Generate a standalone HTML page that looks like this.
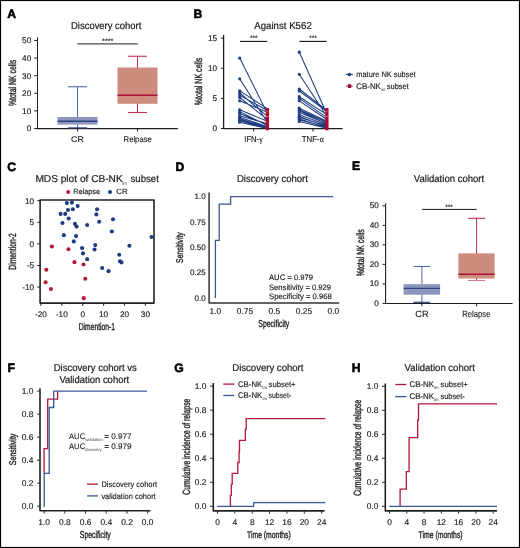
<!DOCTYPE html>
<html><head><meta charset="utf-8"><title>Figure</title>
<style>
html,body{margin:0;padding:0;background:#fff;}
svg{display:block;will-change:transform;}
text{font-family:"Liberation Sans", sans-serif;stroke:#1a1a1a;stroke-width:0.15px;text-rendering:geometricPrecision;}
</style></head>
<body>
<svg width="520" height="548" viewBox="0 0 520 548">
<rect x="0" y="0" width="520" height="548" fill="#fff"/>
<text x="7.2" y="17.5" font-size="12.2" font-weight="bold" fill="#000" style="stroke:#000;stroke-width:0.55px">A</text>
<text x="71" y="29.3" font-size="10.0" textLength="70.4" lengthAdjust="spacingAndGlyphs" fill="#1a1a1a" style="stroke-width:0.2px">Discovery cohort</text>
<line x1="37.5" y1="37.3" x2="37.5" y2="129.2" stroke="#1e1e1e" stroke-width="1"/>
<line x1="34.2" y1="128.5" x2="37.5" y2="128.5" stroke="#1e1e1e" stroke-width="1"/>
<text x="31.2" y="131.4" font-size="8.2" text-anchor="end" fill="#1a1a1a">0</text>
<line x1="34.2" y1="110.9" x2="37.5" y2="110.9" stroke="#1e1e1e" stroke-width="1"/>
<text x="31.2" y="113.80000000000001" font-size="8.2" text-anchor="end" fill="#1a1a1a">10</text>
<line x1="34.2" y1="93.3" x2="37.5" y2="93.3" stroke="#1e1e1e" stroke-width="1"/>
<text x="31.2" y="96.2" font-size="8.2" text-anchor="end" fill="#1a1a1a">20</text>
<line x1="34.2" y1="75.7" x2="37.5" y2="75.7" stroke="#1e1e1e" stroke-width="1"/>
<text x="31.2" y="78.60000000000001" font-size="8.2" text-anchor="end" fill="#1a1a1a">30</text>
<line x1="34.2" y1="58.099999999999994" x2="37.5" y2="58.099999999999994" stroke="#1e1e1e" stroke-width="1"/>
<text x="31.2" y="60.99999999999999" font-size="8.2" text-anchor="end" fill="#1a1a1a">40</text>
<line x1="34.2" y1="40.5" x2="37.5" y2="40.5" stroke="#1e1e1e" stroke-width="1"/>
<text x="31.2" y="43.4" font-size="8.2" text-anchor="end" fill="#1a1a1a">50</text>
<line x1="37.0" y1="128.6" x2="177.8" y2="128.6" stroke="#1e1e1e" stroke-width="1.1"/>
<line x1="77.5" y1="128.6" x2="77.5" y2="131.5" stroke="#1e1e1e" stroke-width="1"/>
<line x1="137.5" y1="128.6" x2="137.5" y2="131.5" stroke="#1e1e1e" stroke-width="1"/>
<text transform="translate(15.94,82.90) rotate(-90)" x="0" y="0" font-size="10.4" text-anchor="middle" textLength="46.4" lengthAdjust="spacingAndGlyphs" fill="#1a1a1a" style="stroke:#1a1a1a;stroke-width:0.35px">%total NK cells</text>
<g>
<line x1="77.5" y1="86.75" x2="77.5" y2="127.9" stroke="#4e6aa3" stroke-width="1"/>
<rect x="57.5" y="117.0" width="40" height="7.6" fill="#8c96be" stroke="none" stroke-width="0"/>
<line x1="68" y1="86.75" x2="87" y2="86.75" stroke="#4e6aa3" stroke-width="1.1"/>
<line x1="68" y1="127.9" x2="87" y2="127.9" stroke="#2a4580" stroke-width="1.2"/>
<line x1="57.5" y1="121.3" x2="97.5" y2="121.3" stroke="#2a4580" stroke-width="1.4"/>
<line x1="137.5" y1="56.25" x2="137.5" y2="112.5" stroke="#c0304f" stroke-width="1"/>
<rect x="117.5" y="67.5" width="40" height="36.25" fill="#cd8c7d" stroke="none" stroke-width="0"/>
<line x1="128" y1="56.25" x2="147" y2="56.25" stroke="#c0304f" stroke-width="1.1"/>
<line x1="128" y1="112.5" x2="147" y2="112.5" stroke="#c0304f" stroke-width="1.1"/>
<line x1="117.5" y1="95.2" x2="157.5" y2="95.2" stroke="#ac1236" stroke-width="1.5"/>
</g>
<line x1="77.5" y1="43.8" x2="137.8" y2="43.8" stroke="#4a4a4a" stroke-width="1.3"/>
<text x="107.7" y="43.4" font-size="6.5" text-anchor="middle" textLength="11.2" lengthAdjust="spacingAndGlyphs" fill="#222">****</text>
<text x="77.5" y="141.9" font-size="8.3" text-anchor="middle" textLength="12.8" lengthAdjust="spacingAndGlyphs" fill="#1a1a1a" style="stroke-width:0.12px">CR</text>
<text x="137.7" y="141.9" font-size="8.3" text-anchor="middle" textLength="28.2" lengthAdjust="spacingAndGlyphs" fill="#1a1a1a" style="stroke-width:0.12px">Relpase</text>
<text x="193.4" y="17.5" font-size="12.2" font-weight="bold" fill="#000" style="stroke:#000;stroke-width:0.55px">B</text>
<text x="254.2" y="29.4" font-size="10.0" textLength="57.6" lengthAdjust="spacingAndGlyphs" fill="#1a1a1a" style="stroke-width:0.2px">Against K562</text>
<line x1="223.6" y1="35.0" x2="223.6" y2="129.0" stroke="#1e1e1e" stroke-width="1.3"/>
<line x1="221.0" y1="128.5" x2="223.6" y2="128.5" stroke="#1e1e1e" stroke-width="1"/>
<text x="217.0" y="131.4" font-size="8.2" text-anchor="end" fill="#1a1a1a">0</text>
<line x1="221.0" y1="98.4" x2="223.6" y2="98.4" stroke="#1e1e1e" stroke-width="1"/>
<text x="217.0" y="101.30000000000001" font-size="8.2" text-anchor="end" fill="#1a1a1a">5</text>
<line x1="221.0" y1="68.30000000000001" x2="223.6" y2="68.30000000000001" stroke="#1e1e1e" stroke-width="1"/>
<text x="217.0" y="71.20000000000002" font-size="8.2" text-anchor="end" fill="#1a1a1a">10</text>
<line x1="221.0" y1="38.2" x2="223.6" y2="38.2" stroke="#1e1e1e" stroke-width="1"/>
<text x="217.0" y="41.1" font-size="8.2" text-anchor="end" fill="#1a1a1a">15</text>
<line x1="223.1" y1="128.6" x2="342.6" y2="128.6" stroke="#1e1e1e" stroke-width="1.1"/>
<line x1="253.7" y1="128.6" x2="253.7" y2="131.5" stroke="#1e1e1e" stroke-width="1"/>
<line x1="313" y1="128.6" x2="313" y2="131.5" stroke="#1e1e1e" stroke-width="1"/>
<text transform="translate(202.34,81.50) rotate(-90)" x="0" y="0" font-size="10.4" text-anchor="middle" textLength="47.5" lengthAdjust="spacingAndGlyphs" fill="#1a1a1a" style="stroke:#1a1a1a;stroke-width:0.35px">%total NK cells</text>
<line x1="240" y1="41.4" x2="267.3" y2="41.4" stroke="#111" stroke-width="1.1"/>
<line x1="299.4" y1="41.4" x2="326.7" y2="41.4" stroke="#111" stroke-width="1.1"/>
<text x="253.7" y="40.0" font-size="6.5" text-anchor="middle" fill="#222">***</text>
<text x="313.0" y="40.0" font-size="6.5" text-anchor="middle" fill="#222">***</text>
<text x="253.4" y="142.2" font-size="8.8" text-anchor="middle" textLength="18.2" lengthAdjust="spacingAndGlyphs" fill="#1a1a1a">IFN-<tspan style="font-family:Liberation Serif">γ</tspan></text>
<text x="312.8" y="142.2" font-size="8.8" text-anchor="middle" textLength="22.0" lengthAdjust="spacingAndGlyphs" fill="#1a1a1a">TNF-<tspan style="font-family:Liberation Serif">α</tspan></text>
<path d="M239.7,58.07L267.4,113.45M239.7,78.84L267.4,122.48M239.7,90.88L267.4,108.63M239.7,92.98L267.4,116.46M239.7,95.39L267.4,110.44M239.7,97.50L267.4,119.47M239.7,100.81L267.4,112.25M239.7,109.84L267.4,121.28M239.7,111.64L267.4,125.49M239.7,115.86L267.4,123.68M239.7,117.24L267.4,126.69M239.7,118.87L267.4,127.30M239.7,120.67L267.4,127.90M239.7,122.18L267.4,128.50M239.7,113.45L267.4,124.89M239.7,119.77L267.4,127.60" stroke="#1f3d80" stroke-width="1.05" fill="none"/>
<circle cx="239.7" cy="58.07" r="1.6" fill="#1f3d80"/>
<circle cx="239.7" cy="78.84" r="1.6" fill="#1f3d80"/>
<circle cx="239.7" cy="90.88" r="1.6" fill="#1f3d80"/>
<circle cx="239.7" cy="92.98" r="1.6" fill="#1f3d80"/>
<circle cx="239.7" cy="95.39" r="1.6" fill="#1f3d80"/>
<circle cx="239.7" cy="97.50" r="1.6" fill="#1f3d80"/>
<circle cx="239.7" cy="100.81" r="1.6" fill="#1f3d80"/>
<circle cx="239.7" cy="109.84" r="1.6" fill="#1f3d80"/>
<circle cx="239.7" cy="111.64" r="1.6" fill="#1f3d80"/>
<circle cx="239.7" cy="115.86" r="1.6" fill="#1f3d80"/>
<circle cx="239.7" cy="117.24" r="1.6" fill="#1f3d80"/>
<circle cx="239.7" cy="118.87" r="1.6" fill="#1f3d80"/>
<circle cx="239.7" cy="120.67" r="1.6" fill="#1f3d80"/>
<circle cx="239.7" cy="122.18" r="1.6" fill="#1f3d80"/>
<circle cx="239.7" cy="113.45" r="1.6" fill="#1f3d80"/>
<circle cx="239.7" cy="119.77" r="1.6" fill="#1f3d80"/>
<rect x="265.75" y="108.0" width="3.3" height="22.3" fill="#b2062f" stroke="none" stroke-width="0"/>
<rect x="265.75" y="111.5" width="3.3" height="0.6" fill="#fff" opacity="0.45"/>
<rect x="265.75" y="116.0" width="3.3" height="0.6" fill="#fff" opacity="0.6"/>
<path d="M299.3,52.17L326.9,114.05M299.3,74.32L326.9,116.46M299.3,89.01L326.9,110.44M299.3,91.00L326.9,111.64M299.3,96.71L326.9,114.65M299.3,98.40L326.9,117.66M299.3,100.81L326.9,119.47M299.3,108.21L326.9,121.28M299.3,109.84L326.9,122.48M299.3,112.31L326.9,123.68M299.3,114.77L326.9,124.89M299.3,117.24L326.9,126.09M299.3,119.71L326.9,127.30M299.3,121.40L326.9,128.20M299.3,116.46L326.9,126.69M299.3,110.44L326.9,124.29M299.3,118.87L326.9,127.90" stroke="#1f3d80" stroke-width="1.05" fill="none"/>
<circle cx="299.3" cy="52.17" r="1.6" fill="#1f3d80"/>
<circle cx="299.3" cy="74.32" r="1.6" fill="#1f3d80"/>
<circle cx="299.3" cy="89.01" r="1.6" fill="#1f3d80"/>
<circle cx="299.3" cy="91.00" r="1.6" fill="#1f3d80"/>
<circle cx="299.3" cy="96.71" r="1.6" fill="#1f3d80"/>
<circle cx="299.3" cy="98.40" r="1.6" fill="#1f3d80"/>
<circle cx="299.3" cy="100.81" r="1.6" fill="#1f3d80"/>
<circle cx="299.3" cy="108.21" r="1.6" fill="#1f3d80"/>
<circle cx="299.3" cy="109.84" r="1.6" fill="#1f3d80"/>
<circle cx="299.3" cy="112.31" r="1.6" fill="#1f3d80"/>
<circle cx="299.3" cy="114.77" r="1.6" fill="#1f3d80"/>
<circle cx="299.3" cy="117.24" r="1.6" fill="#1f3d80"/>
<circle cx="299.3" cy="119.71" r="1.6" fill="#1f3d80"/>
<circle cx="299.3" cy="121.40" r="1.6" fill="#1f3d80"/>
<circle cx="299.3" cy="116.46" r="1.6" fill="#1f3d80"/>
<circle cx="299.3" cy="110.44" r="1.6" fill="#1f3d80"/>
<circle cx="299.3" cy="118.87" r="1.6" fill="#1f3d80"/>
<rect x="325.25" y="108.0" width="3.3" height="22.3" fill="#b2062f" stroke="none" stroke-width="0"/>
<rect x="325.25" y="111.5" width="3.3" height="0.6" fill="#fff" opacity="0.45"/>
<rect x="325.25" y="116.0" width="3.3" height="0.6" fill="#fff" opacity="0.6"/>
<line x1="345.9" y1="74.5" x2="352.9" y2="74.5" stroke="#1f3d80" stroke-width="1.1"/>
<circle cx="349.4" cy="74.5" r="1.75" fill="#1f3d80"/>
<text x="356.3" y="77.0" font-size="8.0" textLength="59.3" lengthAdjust="spacingAndGlyphs" fill="#1a1a1a">mature NK subset</text>
<line x1="345.9" y1="86.1" x2="352.9" y2="86.1" stroke="#4a68a0" stroke-width="1.1"/>
<rect x="347.9" y="84.2" width="3.3" height="3.8" fill="#b2062f" stroke="none" stroke-width="0"/>
<text x="356.3" y="88.6" font-size="8.1" textLength="24.6" lengthAdjust="spacingAndGlyphs" fill="#1a1a1a">CB-NK</text>
<text x="381.2" y="90.5" font-size="4.4" textLength="4.2" lengthAdjust="spacingAndGlyphs" fill="#1a1a1a" style="stroke-width:0px">im</text>
<text x="386.8" y="88.6" font-size="8.0" textLength="21.9" lengthAdjust="spacingAndGlyphs" fill="#1a1a1a">subset</text>
<text x="7.2" y="170.6" font-size="12.2" font-weight="bold" fill="#000" style="stroke:#000;stroke-width:0.55px">C</text>
<text x="35.4" y="181.8" font-size="10.0" textLength="87.3" lengthAdjust="spacingAndGlyphs" fill="#1a1a1a" style="stroke-width:0.2px">MDS plot of CB-NK</text>
<text x="122.0" y="185.0" font-size="5.0" textLength="5.2" lengthAdjust="spacingAndGlyphs" fill="#555" style="stroke-width:0px">im</text>
<text x="130.5" y="181.8" font-size="10.0" textLength="28.3" lengthAdjust="spacingAndGlyphs" fill="#1a1a1a" style="stroke-width:0.2px">subset</text>
<circle cx="68.2" cy="192" r="2.0" fill="#b3173b"/>
<text x="73.2" y="194.1" font-size="7.6" textLength="26.8" lengthAdjust="spacingAndGlyphs" fill="#1a1a1a">Relapse</text>
<circle cx="110" cy="192" r="2.0" fill="#1f3c82"/>
<text x="116.3" y="194.1" font-size="7.6" textLength="11.3" lengthAdjust="spacingAndGlyphs" fill="#1a1a1a">CR</text>
<rect x="40.1" y="200.0" width="113.9" height="103.1" fill="none" stroke="#222" stroke-width="1.6" stroke-linejoin="round"/>
<line x1="37.3" y1="200.7" x2="40.2" y2="200.7" stroke="#1e1e1e" stroke-width="1"/>
<text x="34.1" y="203.6" font-size="8.2" text-anchor="end" fill="#1a1a1a">10</text>
<line x1="37.3" y1="222.3" x2="40.2" y2="222.3" stroke="#1e1e1e" stroke-width="1"/>
<text x="34.1" y="225.20000000000002" font-size="8.2" text-anchor="end" fill="#1a1a1a">5</text>
<line x1="37.3" y1="243.9" x2="40.2" y2="243.9" stroke="#1e1e1e" stroke-width="1"/>
<text x="34.1" y="246.8" font-size="8.2" text-anchor="end" fill="#1a1a1a">0</text>
<line x1="37.3" y1="265.5" x2="40.2" y2="265.5" stroke="#1e1e1e" stroke-width="1"/>
<text x="34.1" y="268.4" font-size="8.2" text-anchor="end" fill="#1a1a1a">-5</text>
<line x1="37.3" y1="287.1" x2="40.2" y2="287.1" stroke="#1e1e1e" stroke-width="1"/>
<text x="34.1" y="290.0" font-size="8.2" text-anchor="end" fill="#1a1a1a">-10</text>
<line x1="40.900000000000006" y1="302.9" x2="40.900000000000006" y2="305.8" stroke="#1e1e1e" stroke-width="1"/>
<text x="40.900000000000006" y="317.0" font-size="8.2" text-anchor="middle" fill="#1a1a1a">-20</text>
<line x1="61.800000000000004" y1="302.9" x2="61.800000000000004" y2="305.8" stroke="#1e1e1e" stroke-width="1"/>
<text x="61.800000000000004" y="317.0" font-size="8.2" text-anchor="middle" fill="#1a1a1a">-10</text>
<line x1="82.7" y1="302.9" x2="82.7" y2="305.8" stroke="#1e1e1e" stroke-width="1"/>
<text x="82.7" y="317.0" font-size="8.2" text-anchor="middle" fill="#1a1a1a">0</text>
<line x1="103.6" y1="302.9" x2="103.6" y2="305.8" stroke="#1e1e1e" stroke-width="1"/>
<text x="103.6" y="317.0" font-size="8.2" text-anchor="middle" fill="#1a1a1a">10</text>
<line x1="124.5" y1="302.9" x2="124.5" y2="305.8" stroke="#1e1e1e" stroke-width="1"/>
<text x="124.5" y="317.0" font-size="8.2" text-anchor="middle" fill="#1a1a1a">20</text>
<line x1="145.4" y1="302.9" x2="145.4" y2="305.8" stroke="#1e1e1e" stroke-width="1"/>
<text x="145.4" y="317.0" font-size="8.2" text-anchor="middle" fill="#1a1a1a">30</text>
<text transform="translate(15.94,251.50) rotate(-90)" x="0" y="0" font-size="10.4" text-anchor="middle" textLength="36.5" lengthAdjust="spacingAndGlyphs" fill="#1a1a1a" style="stroke:#1a1a1a;stroke-width:0.35px">Dimention-2</text>
<text x="96.9" y="330.3" font-size="10.0" text-anchor="middle" textLength="36.3" lengthAdjust="spacingAndGlyphs" fill="#1a1a1a" style="stroke:#1a1a1a;stroke-width:0.35px">Dimention-1</text>
<circle cx="66.85" cy="203.08" r="2.05" fill="#1f3c82"/>
<circle cx="71.93" cy="202.62" r="2.05" fill="#1f3c82"/>
<circle cx="77.70" cy="206.08" r="2.05" fill="#1f3c82"/>
<circle cx="68.00" cy="210.00" r="2.05" fill="#1f3c82"/>
<circle cx="72.85" cy="209.31" r="2.05" fill="#1f3c82"/>
<circle cx="60.62" cy="213.92" r="2.05" fill="#1f3c82"/>
<circle cx="65.23" cy="213.92" r="2.05" fill="#1f3c82"/>
<circle cx="68.69" cy="218.54" r="2.05" fill="#1f3c82"/>
<circle cx="62.46" cy="222.93" r="2.05" fill="#1f3c82"/>
<circle cx="74.93" cy="223.85" r="2.05" fill="#1f3c82"/>
<circle cx="76.54" cy="226.62" r="2.05" fill="#1f3c82"/>
<circle cx="87.16" cy="225.00" r="2.05" fill="#1f3c82"/>
<circle cx="97.08" cy="209.31" r="2.05" fill="#1f3c82"/>
<circle cx="96.39" cy="214.39" r="2.05" fill="#1f3c82"/>
<circle cx="99.16" cy="221.77" r="2.05" fill="#1f3c82"/>
<circle cx="113.01" cy="219.23" r="2.05" fill="#1f3c82"/>
<circle cx="111.85" cy="231.46" r="2.05" fill="#1f3c82"/>
<circle cx="63.85" cy="235.16" r="2.05" fill="#1f3c82"/>
<circle cx="76.08" cy="236.08" r="2.05" fill="#1f3c82"/>
<circle cx="73.77" cy="241.39" r="2.05" fill="#1f3c82"/>
<circle cx="151.55" cy="237.00" r="2.05" fill="#1f3c82"/>
<circle cx="95.24" cy="245.08" r="2.05" fill="#1f3c82"/>
<circle cx="94.54" cy="249.47" r="2.05" fill="#1f3c82"/>
<circle cx="82.08" cy="248.08" r="2.05" fill="#1f3c82"/>
<circle cx="83.00" cy="253.39" r="2.05" fill="#1f3c82"/>
<circle cx="87.16" cy="259.16" r="2.05" fill="#1f3c82"/>
<circle cx="129.39" cy="245.77" r="2.05" fill="#1f3c82"/>
<circle cx="119.24" cy="254.77" r="2.05" fill="#1f3c82"/>
<circle cx="119.93" cy="261.24" r="2.05" fill="#1f3c82"/>
<circle cx="121.54" cy="262.39" r="2.05" fill="#1f3c82"/>
<circle cx="102.16" cy="267.93" r="2.05" fill="#1f3c82"/>
<circle cx="108.62" cy="271.16" r="2.05" fill="#1f3c82"/>
<circle cx="51.85" cy="246.47" r="2.05" fill="#b3173b"/>
<circle cx="68.46" cy="249.23" r="2.05" fill="#b3173b"/>
<circle cx="74.46" cy="262.16" r="2.05" fill="#b3173b"/>
<circle cx="83.47" cy="264.47" r="2.05" fill="#b3173b"/>
<circle cx="46.31" cy="269.77" r="2.05" fill="#b3173b"/>
<circle cx="45.62" cy="282.24" r="2.05" fill="#b3173b"/>
<circle cx="50.92" cy="288.93" r="2.05" fill="#b3173b"/>
<circle cx="85.31" cy="278.78" r="2.05" fill="#b3173b"/>
<circle cx="83.70" cy="298.16" r="2.05" fill="#b3173b"/>
<text x="175.6" y="170.6" font-size="12.2" font-weight="bold" fill="#000" style="stroke:#000;stroke-width:0.55px">D</text>
<text x="236.9" y="182.3" font-size="10.0" textLength="71" lengthAdjust="spacingAndGlyphs" fill="#1a1a1a" style="stroke-width:0.2px">Discovery cohort</text>
<path d="M209.1,192.5V302.9H339.2" stroke="#333" stroke-width="1.5" fill="none" stroke-linejoin="round"/>
<text x="205.7" y="199.2" font-size="8.0" text-anchor="end" fill="#1a1a1a">1.0</text>
<text x="205.7" y="224.6" font-size="8.0" text-anchor="end" fill="#1a1a1a">0.75</text>
<text x="205.7" y="249.99999999999997" font-size="8.0" text-anchor="end" fill="#1a1a1a">0.50</text>
<text x="205.7" y="275.40000000000003" font-size="8.0" text-anchor="end" fill="#1a1a1a">0.25</text>
<text x="205.7" y="300.8" font-size="8.0" text-anchor="end" fill="#1a1a1a">0.0</text>
<text x="215.4" y="313.9" font-size="8.4" text-anchor="middle" fill="#1a1a1a">1.0</text>
<text x="244.9" y="313.9" font-size="8.4" text-anchor="middle" fill="#1a1a1a">0.75</text>
<text x="274.4" y="313.9" font-size="8.4" text-anchor="middle" fill="#1a1a1a">0.5</text>
<text x="303.9" y="313.9" font-size="8.4" text-anchor="middle" fill="#1a1a1a">0.25</text>
<text x="333.4" y="313.9" font-size="8.4" text-anchor="middle" fill="#1a1a1a">0.0</text>
<text transform="translate(183.13,247.60) rotate(-90)" x="0" y="0" font-size="9.8" text-anchor="middle" textLength="30.6" lengthAdjust="spacingAndGlyphs" fill="#1a1a1a" style="stroke:#1a1a1a;stroke-width:0.35px">Sensitivity</text>
<text x="273.8" y="327.0" font-size="10.0" text-anchor="middle" textLength="31" lengthAdjust="spacingAndGlyphs" fill="#1a1a1a" style="stroke:#1a1a1a;stroke-width:0.35px">Specificity</text>
<path d="M215.4,298.0V240.4H219.2V204.1H230.6V196.7H333.2" stroke="#3a5896" stroke-width="1.3" fill="none"/>
<text x="269.0" y="280.2" font-size="7.9" textLength="44.1" lengthAdjust="spacingAndGlyphs" fill="#1a1a1a">AUC = 0.979</text>
<text x="269.0" y="289.6" font-size="7.9" textLength="62.1" lengthAdjust="spacingAndGlyphs" fill="#1a1a1a">Sensitivity = 0.929</text>
<text x="269.0" y="298.9" font-size="7.9" textLength="62.9" lengthAdjust="spacingAndGlyphs" fill="#1a1a1a">Specificity = 0.968</text>
<text x="352.1" y="170.4" font-size="12.2" font-weight="bold" fill="#000" style="stroke:#000;stroke-width:0.55px">E</text>
<text x="413.8" y="182.3" font-size="10.0" textLength="70.4" lengthAdjust="spacingAndGlyphs" fill="#1a1a1a" style="stroke-width:0.2px">Validation cohort</text>
<line x1="385.6" y1="203.3" x2="385.6" y2="304.0" stroke="#1e1e1e" stroke-width="1.1"/>
<line x1="382.5" y1="303.4" x2="385.6" y2="303.4" stroke="#1e1e1e" stroke-width="1"/>
<text x="378.9" y="305.9" font-size="8.2" text-anchor="end" fill="#1a1a1a">0</text>
<line x1="382.5" y1="283.88" x2="385.6" y2="283.88" stroke="#1e1e1e" stroke-width="1"/>
<text x="378.9" y="286.38" font-size="8.2" text-anchor="end" fill="#1a1a1a">10</text>
<line x1="382.5" y1="264.35999999999996" x2="385.6" y2="264.35999999999996" stroke="#1e1e1e" stroke-width="1"/>
<text x="378.9" y="266.85999999999996" font-size="8.2" text-anchor="end" fill="#1a1a1a">20</text>
<line x1="382.5" y1="244.83999999999997" x2="385.6" y2="244.83999999999997" stroke="#1e1e1e" stroke-width="1"/>
<text x="378.9" y="247.33999999999997" font-size="8.2" text-anchor="end" fill="#1a1a1a">30</text>
<line x1="382.5" y1="225.32" x2="385.6" y2="225.32" stroke="#1e1e1e" stroke-width="1"/>
<text x="378.9" y="227.82" font-size="8.2" text-anchor="end" fill="#1a1a1a">40</text>
<line x1="382.5" y1="205.79999999999998" x2="385.6" y2="205.79999999999998" stroke="#1e1e1e" stroke-width="1"/>
<text x="378.9" y="208.29999999999998" font-size="8.2" text-anchor="end" fill="#1a1a1a">50</text>
<line x1="385.1" y1="303.5" x2="512.6" y2="303.5" stroke="#1e1e1e" stroke-width="1.1"/>
<line x1="421.9" y1="303.5" x2="421.9" y2="306.3" stroke="#1e1e1e" stroke-width="1"/>
<line x1="476.6" y1="303.5" x2="476.6" y2="306.3" stroke="#1e1e1e" stroke-width="1"/>
<text transform="translate(364.24,252.70) rotate(-90)" x="0" y="0" font-size="10.4" text-anchor="middle" textLength="47" lengthAdjust="spacingAndGlyphs" fill="#1a1a1a" style="stroke:#1a1a1a;stroke-width:0.35px">%total NK cells</text>
<line x1="421.9" y1="209.4" x2="476.6" y2="209.4" stroke="#1e1e1e" stroke-width="1"/>
<text x="449.0" y="209.0" font-size="6.5" text-anchor="middle" fill="#222">***</text>
<line x1="421.9" y1="266.5" x2="421.9" y2="302.3" stroke="#4e6aa3" stroke-width="1"/>
<rect x="403.6" y="284.2" width="36.5" height="10.5" fill="#8c96be" stroke="none" stroke-width="0"/>
<line x1="413.4" y1="266.5" x2="430.2" y2="266.5" stroke="#4e6aa3" stroke-width="1.1"/>
<line x1="413.4" y1="302.3" x2="430.2" y2="302.3" stroke="#2a4580" stroke-width="1.2"/>
<line x1="403.6" y1="288.4" x2="440.1" y2="288.4" stroke="#2a4580" stroke-width="1.4"/>
<line x1="476.6" y1="218.3" x2="476.6" y2="280.4" stroke="#c0304f" stroke-width="1"/>
<rect x="458.4" y="253.4" width="36.2" height="25.1" fill="#cd8c7d" stroke="none" stroke-width="0"/>
<line x1="468.0" y1="218.3" x2="485.2" y2="218.3" stroke="#c0304f" stroke-width="1.1"/>
<line x1="468.0" y1="280.4" x2="485.2" y2="280.4" stroke="#d06a80" stroke-width="1.0"/>
<line x1="458.4" y1="274.2" x2="494.6" y2="274.2" stroke="#ac1236" stroke-width="1.5"/>
<text x="421.9" y="317.0" font-size="9.0" text-anchor="middle" textLength="13.2" lengthAdjust="spacingAndGlyphs" fill="#1a1a1a" style="stroke-width:0.12px">CR</text>
<text x="476.4" y="317.0" font-size="9.0" text-anchor="middle" textLength="28.2" lengthAdjust="spacingAndGlyphs" fill="#1a1a1a" style="stroke-width:0.12px">Relapse</text>
<text x="7.4" y="372.4" font-size="12.2" font-weight="bold" fill="#000" style="stroke:#000;stroke-width:0.55px">F</text>
<text x="53.7" y="371.1" font-size="10.0" textLength="83.2" lengthAdjust="spacingAndGlyphs" fill="#1a1a1a" style="stroke-width:0.2px">Discovery cohort vs</text>
<text x="59.4" y="383.0" font-size="10.0" textLength="69.8" lengthAdjust="spacingAndGlyphs" fill="#1a1a1a" style="stroke-width:0.2px">Validation cohort</text>
<path d="M40.0,388.2V510.7H150.6" stroke="#222" stroke-width="1.6" fill="none" stroke-linejoin="round"/>
<line x1="37.1" y1="506.2" x2="40.0" y2="506.2" stroke="#2a2a2a" stroke-width="1"/>
<text x="33.3" y="508.9" font-size="8.4" text-anchor="end" fill="#1a1a1a">0.0</text>
<line x1="147.7" y1="510.7" x2="147.7" y2="513.6" stroke="#2a2a2a" stroke-width="1"/>
<text x="147.7" y="524.6" font-size="8.4" text-anchor="middle" fill="#1a1a1a">0.0</text>
<line x1="37.1" y1="483.18" x2="40.0" y2="483.18" stroke="#2a2a2a" stroke-width="1"/>
<text x="33.3" y="485.88" font-size="8.4" text-anchor="end" fill="#1a1a1a">0.2</text>
<line x1="126.97999999999999" y1="510.7" x2="126.97999999999999" y2="513.6" stroke="#2a2a2a" stroke-width="1"/>
<text x="126.97999999999999" y="524.6" font-size="8.4" text-anchor="middle" fill="#1a1a1a">0.2</text>
<line x1="37.1" y1="460.15999999999997" x2="40.0" y2="460.15999999999997" stroke="#2a2a2a" stroke-width="1"/>
<text x="33.3" y="462.85999999999996" font-size="8.4" text-anchor="end" fill="#1a1a1a">0.4</text>
<line x1="106.25999999999999" y1="510.7" x2="106.25999999999999" y2="513.6" stroke="#2a2a2a" stroke-width="1"/>
<text x="106.25999999999999" y="524.6" font-size="8.4" text-anchor="middle" fill="#1a1a1a">0.4</text>
<line x1="37.1" y1="437.14" x2="40.0" y2="437.14" stroke="#2a2a2a" stroke-width="1"/>
<text x="33.3" y="439.84" font-size="8.4" text-anchor="end" fill="#1a1a1a">0.6</text>
<line x1="85.53999999999999" y1="510.7" x2="85.53999999999999" y2="513.6" stroke="#2a2a2a" stroke-width="1"/>
<text x="85.53999999999999" y="524.6" font-size="8.4" text-anchor="middle" fill="#1a1a1a">0.6</text>
<line x1="37.1" y1="414.12" x2="40.0" y2="414.12" stroke="#2a2a2a" stroke-width="1"/>
<text x="33.3" y="416.82" font-size="8.4" text-anchor="end" fill="#1a1a1a">0.8</text>
<line x1="64.82" y1="510.7" x2="64.82" y2="513.6" stroke="#2a2a2a" stroke-width="1"/>
<text x="64.82" y="524.6" font-size="8.4" text-anchor="middle" fill="#1a1a1a">0.8</text>
<line x1="37.1" y1="391.1" x2="40.0" y2="391.1" stroke="#2a2a2a" stroke-width="1"/>
<text x="33.3" y="393.8" font-size="8.4" text-anchor="end" fill="#1a1a1a">1.0</text>
<line x1="44.1" y1="510.7" x2="44.1" y2="513.6" stroke="#2a2a2a" stroke-width="1"/>
<text x="44.1" y="524.6" font-size="8.4" text-anchor="middle" fill="#1a1a1a">1.0</text>
<text transform="translate(16.13,449.40) rotate(-90)" x="0" y="0" font-size="9.8" text-anchor="middle" textLength="31.5" lengthAdjust="spacingAndGlyphs" fill="#1a1a1a" style="stroke:#1a1a1a;stroke-width:0.35px">Sensitivity</text>
<text x="95.3" y="538.2" font-size="10.0" text-anchor="middle" textLength="31" lengthAdjust="spacingAndGlyphs" fill="#1a1a1a" style="stroke:#1a1a1a;stroke-width:0.35px">Specificity</text>
<path d="M44.1,473.3V448.6H47.7V399.2H57.6V391.2" stroke="#b3173b" stroke-width="1.3" fill="none"/>
<path d="M44.2,507.0V473.3H49.2V407.5H53.7V391.2H147.0" stroke="#3a5896" stroke-width="1.3" fill="none"/>
<text x="69.0" y="438.7" font-size="8.0" textLength="16.2" lengthAdjust="spacingAndGlyphs" fill="#1a1a1a" style="stroke-width:0.1px">AUC</text>
<text x="85.3" y="440.9" font-size="4.2" textLength="17.4" lengthAdjust="spacingAndGlyphs" fill="#444" style="stroke-width:0px">validation</text>
<text x="104.2" y="438.7" font-size="8.0" textLength="27.3" lengthAdjust="spacingAndGlyphs" fill="#1a1a1a" style="stroke-width:0.1px">= 0.977</text>
<text x="69.0" y="448.5" font-size="8.0" textLength="16.2" lengthAdjust="spacingAndGlyphs" fill="#1a1a1a" style="stroke-width:0.1px">AUC</text>
<text x="85.3" y="450.7" font-size="4.2" textLength="16.4" lengthAdjust="spacingAndGlyphs" fill="#444" style="stroke-width:0px">discovery</text>
<text x="104.2" y="448.5" font-size="8.0" textLength="27.3" lengthAdjust="spacingAndGlyphs" fill="#1a1a1a" style="stroke-width:0.1px">= 0.979</text>
<line x1="87.1" y1="484.1" x2="97.9" y2="484.1" stroke="#b3173b" stroke-width="1.3"/>
<text x="101.4" y="486.7" font-size="8.0" textLength="55.7" lengthAdjust="spacingAndGlyphs" fill="#1a1a1a">Discovery cohort</text>
<line x1="87.1" y1="495.9" x2="97.9" y2="495.9" stroke="#3a5896" stroke-width="1.3"/>
<text x="101.4" y="498.5" font-size="8.0" textLength="54.3" lengthAdjust="spacingAndGlyphs" fill="#1a1a1a">validation cohort</text>
<text x="174.3" y="372.4" font-size="12.2" font-weight="bold" fill="#000" style="stroke:#000;stroke-width:0.55px">G</text>
<text x="232.3" y="371.0" font-size="10.0" textLength="71.1" lengthAdjust="spacingAndGlyphs" fill="#1a1a1a" style="stroke-width:0.2px">Discovery cohort</text>
<path d="M213.3,383.0V510.9H324.6" stroke="#222" stroke-width="1.6" fill="none" stroke-linejoin="round"/>
<line x1="210.0" y1="506.3" x2="213.3" y2="506.3" stroke="#2a2a2a" stroke-width="1"/>
<text x="206.3" y="509.0" font-size="8.4" text-anchor="end" fill="#1a1a1a">0.0</text>
<line x1="210.0" y1="482.26" x2="213.3" y2="482.26" stroke="#2a2a2a" stroke-width="1"/>
<text x="206.3" y="484.96" font-size="8.4" text-anchor="end" fill="#1a1a1a">0.2</text>
<line x1="210.0" y1="458.22" x2="213.3" y2="458.22" stroke="#2a2a2a" stroke-width="1"/>
<text x="206.3" y="460.92" font-size="8.4" text-anchor="end" fill="#1a1a1a">0.4</text>
<line x1="210.0" y1="434.18" x2="213.3" y2="434.18" stroke="#2a2a2a" stroke-width="1"/>
<text x="206.3" y="436.88" font-size="8.4" text-anchor="end" fill="#1a1a1a">0.6</text>
<line x1="210.0" y1="410.14" x2="213.3" y2="410.14" stroke="#2a2a2a" stroke-width="1"/>
<text x="206.3" y="412.84" font-size="8.4" text-anchor="end" fill="#1a1a1a">0.8</text>
<line x1="210.0" y1="386.1" x2="213.3" y2="386.1" stroke="#2a2a2a" stroke-width="1"/>
<text x="206.3" y="388.8" font-size="8.4" text-anchor="end" fill="#1a1a1a">1.0</text>
<line x1="217.5" y1="510.9" x2="217.5" y2="513.6" stroke="#2a2a2a" stroke-width="1"/>
<text x="217.5" y="524.5" font-size="8.4" text-anchor="middle" fill="#1a1a1a">0</text>
<line x1="234.86" y1="510.9" x2="234.86" y2="513.6" stroke="#2a2a2a" stroke-width="1"/>
<text x="234.86" y="524.5" font-size="8.4" text-anchor="middle" fill="#1a1a1a">4</text>
<line x1="252.22" y1="510.9" x2="252.22" y2="513.6" stroke="#2a2a2a" stroke-width="1"/>
<text x="252.22" y="524.5" font-size="8.4" text-anchor="middle" fill="#1a1a1a">8</text>
<line x1="269.58" y1="510.9" x2="269.58" y2="513.6" stroke="#2a2a2a" stroke-width="1"/>
<text x="269.58" y="524.5" font-size="8.4" text-anchor="middle" fill="#1a1a1a">12</text>
<line x1="286.94" y1="510.9" x2="286.94" y2="513.6" stroke="#2a2a2a" stroke-width="1"/>
<text x="286.94" y="524.5" font-size="8.4" text-anchor="middle" fill="#1a1a1a">16</text>
<line x1="304.3" y1="510.9" x2="304.3" y2="513.6" stroke="#2a2a2a" stroke-width="1"/>
<text x="304.3" y="524.5" font-size="8.4" text-anchor="middle" fill="#1a1a1a">20</text>
<line x1="321.65999999999997" y1="510.9" x2="321.65999999999997" y2="513.6" stroke="#2a2a2a" stroke-width="1"/>
<text x="321.65999999999997" y="524.5" font-size="8.4" text-anchor="middle" fill="#1a1a1a">24</text>
<text transform="translate(189.62,446.70) rotate(-90)" x="0" y="0" font-size="10.6" text-anchor="middle" textLength="96" lengthAdjust="spacingAndGlyphs" fill="#1a1a1a" style="stroke:#1a1a1a;stroke-width:0.35px">Cumulative incidence of relapse</text>
<text x="268.9" y="538.2" font-size="9.6" text-anchor="middle" textLength="43.8" lengthAdjust="spacingAndGlyphs" fill="#1a1a1a" style="stroke:#1a1a1a;stroke-width:0.35px">Time (months)</text>
<path d="M217.2,506.4H253.7V502.6H325.3" stroke="#3a5896" stroke-width="1.3" fill="none"/>
<path d="M230.4,506.4V495.3H231.3V484.4H232.2V473.3H237.8V462.5H239.1V451.5H239.5V440.4H245.3V429.4H246.2V418.6H325.3" stroke="#b3173b" stroke-width="1.3" fill="none"/>
<line x1="223.3" y1="384.1" x2="234.4" y2="384.1" stroke="#b3173b" stroke-width="1.3"/>
<text x="238.0" y="386.6" font-size="8.1" textLength="24.2" lengthAdjust="spacingAndGlyphs" fill="#1a1a1a">CB-NK</text>
<text x="262.5" y="388.6" font-size="4.4" textLength="4.4" lengthAdjust="spacingAndGlyphs" fill="#1a1a1a" style="stroke-width:0px">im</text>
<text x="268.6" y="386.6" font-size="8.0" textLength="27.0" lengthAdjust="spacingAndGlyphs" fill="#1a1a1a">subset+</text>
<line x1="223.3" y1="395.5" x2="234.4" y2="395.5" stroke="#3a5896" stroke-width="1.3"/>
<text x="238.0" y="398.0" font-size="8.1" textLength="24.2" lengthAdjust="spacingAndGlyphs" fill="#1a1a1a">CB-NK</text>
<text x="262.5" y="400.0" font-size="4.4" textLength="4.4" lengthAdjust="spacingAndGlyphs" fill="#1a1a1a" style="stroke-width:0px">im</text>
<text x="268.6" y="398.0" font-size="8.0" textLength="22.5" lengthAdjust="spacingAndGlyphs" fill="#1a1a1a">subset-</text>
<text x="351.8" y="372.4" font-size="12.2" font-weight="bold" fill="#000" style="stroke:#000;stroke-width:0.55px">H</text>
<text x="404.6" y="371.0" font-size="10.0" textLength="70.2" lengthAdjust="spacingAndGlyphs" fill="#1a1a1a" style="stroke-width:0.2px">Validation cohort</text>
<path d="M385.3,383.5V510.9H497.0" stroke="#222" stroke-width="1.6" fill="none" stroke-linejoin="round"/>
<line x1="382.0" y1="506.3" x2="385.3" y2="506.3" stroke="#2a2a2a" stroke-width="1"/>
<text x="378.3" y="509.0" font-size="8.4" text-anchor="end" fill="#1a1a1a">0.0</text>
<line x1="382.0" y1="482.3" x2="385.3" y2="482.3" stroke="#2a2a2a" stroke-width="1"/>
<text x="378.3" y="485.0" font-size="8.4" text-anchor="end" fill="#1a1a1a">0.2</text>
<line x1="382.0" y1="458.3" x2="385.3" y2="458.3" stroke="#2a2a2a" stroke-width="1"/>
<text x="378.3" y="461.0" font-size="8.4" text-anchor="end" fill="#1a1a1a">0.4</text>
<line x1="382.0" y1="434.3" x2="385.3" y2="434.3" stroke="#2a2a2a" stroke-width="1"/>
<text x="378.3" y="437.0" font-size="8.4" text-anchor="end" fill="#1a1a1a">0.6</text>
<line x1="382.0" y1="410.3" x2="385.3" y2="410.3" stroke="#2a2a2a" stroke-width="1"/>
<text x="378.3" y="413.0" font-size="8.4" text-anchor="end" fill="#1a1a1a">0.8</text>
<line x1="382.0" y1="386.3" x2="385.3" y2="386.3" stroke="#2a2a2a" stroke-width="1"/>
<text x="378.3" y="389.0" font-size="8.4" text-anchor="end" fill="#1a1a1a">1.0</text>
<line x1="389.5" y1="510.9" x2="389.5" y2="513.6" stroke="#2a2a2a" stroke-width="1"/>
<text x="389.5" y="524.5" font-size="8.4" text-anchor="middle" fill="#1a1a1a">0</text>
<line x1="406.78" y1="510.9" x2="406.78" y2="513.6" stroke="#2a2a2a" stroke-width="1"/>
<text x="406.78" y="524.5" font-size="8.4" text-anchor="middle" fill="#1a1a1a">4</text>
<line x1="424.06" y1="510.9" x2="424.06" y2="513.6" stroke="#2a2a2a" stroke-width="1"/>
<text x="424.06" y="524.5" font-size="8.4" text-anchor="middle" fill="#1a1a1a">8</text>
<line x1="441.34000000000003" y1="510.9" x2="441.34000000000003" y2="513.6" stroke="#2a2a2a" stroke-width="1"/>
<text x="441.34000000000003" y="524.5" font-size="8.4" text-anchor="middle" fill="#1a1a1a">12</text>
<line x1="458.62" y1="510.9" x2="458.62" y2="513.6" stroke="#2a2a2a" stroke-width="1"/>
<text x="458.62" y="524.5" font-size="8.4" text-anchor="middle" fill="#1a1a1a">16</text>
<line x1="475.9" y1="510.9" x2="475.9" y2="513.6" stroke="#2a2a2a" stroke-width="1"/>
<text x="475.9" y="524.5" font-size="8.4" text-anchor="middle" fill="#1a1a1a">20</text>
<line x1="493.18" y1="510.9" x2="493.18" y2="513.6" stroke="#2a2a2a" stroke-width="1"/>
<text x="493.18" y="524.5" font-size="8.4" text-anchor="middle" fill="#1a1a1a">24</text>
<text transform="translate(360.92,447.80) rotate(-90)" x="0" y="0" font-size="10.6" text-anchor="middle" textLength="96" lengthAdjust="spacingAndGlyphs" fill="#1a1a1a" style="stroke:#1a1a1a;stroke-width:0.35px">Cumulative incidence of relapse</text>
<text x="440.6" y="537.8" font-size="9.6" text-anchor="middle" textLength="44.1" lengthAdjust="spacingAndGlyphs" fill="#1a1a1a" style="stroke:#1a1a1a;stroke-width:0.35px">Time (months)</text>
<path d="M400.1,506.4V489.1H406.3V471.7H409.1V437.7H417.7V420.2H418.5V403.8H497.0" stroke="#b3173b" stroke-width="1.3" fill="none"/>
<path d="M389.2,506.4H497.0" stroke="#3a5896" stroke-width="1.3" fill="none"/>
<line x1="395.2" y1="384.5" x2="406.4" y2="384.5" stroke="#b3173b" stroke-width="1.3"/>
<text x="409.5" y="387.0" font-size="8.1" textLength="24.6" lengthAdjust="spacingAndGlyphs" fill="#1a1a1a">CB-NK</text>
<text x="434.0" y="389.0" font-size="4.4" textLength="4.6" lengthAdjust="spacingAndGlyphs" fill="#1a1a1a" style="stroke-width:0px">im</text>
<text x="440.5" y="387.0" font-size="8.0" textLength="27.4" lengthAdjust="spacingAndGlyphs" fill="#1a1a1a">subset+</text>
<line x1="395.2" y1="396.6" x2="406.4" y2="396.6" stroke="#3a5896" stroke-width="1.3"/>
<text x="409.5" y="399.1" font-size="8.1" textLength="24.6" lengthAdjust="spacingAndGlyphs" fill="#1a1a1a">CB-NK</text>
<text x="434.0" y="401.1" font-size="4.4" textLength="4.6" lengthAdjust="spacingAndGlyphs" fill="#1a1a1a" style="stroke-width:0px">im</text>
<text x="440.5" y="399.1" font-size="8.0" textLength="24.2" lengthAdjust="spacingAndGlyphs" fill="#1a1a1a">subset-</text>
<rect x="0.5" y="0.5" width="519" height="547" fill="none" stroke="#000" stroke-width="1.2"/>
</svg>
</body></html>
